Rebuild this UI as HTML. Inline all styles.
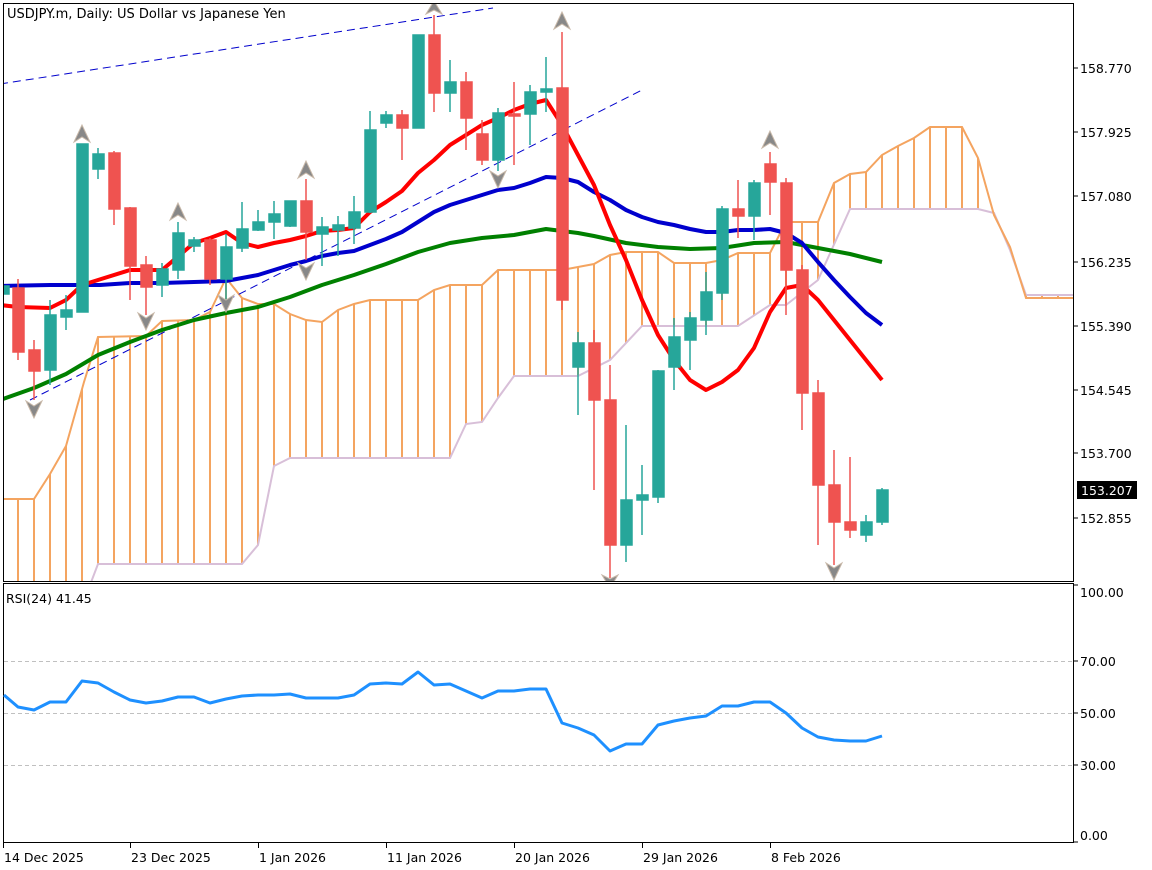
<!DOCTYPE html>
<html><head><meta charset="utf-8"><style>
html,body{margin:0;padding:0;background:#fff;}
svg{display:block;font-family:"DejaVu Sans","Liberation Sans",sans-serif;}
</style></head><body>
<svg width="1152" height="870" viewBox="0 0 1152 870" xmlns="http://www.w3.org/2000/svg">
<defs>
<pattern id="hatch" patternUnits="userSpaceOnUse" x="0" y="0" width="16" height="10">
<rect x="1" y="0" width="2" height="10" fill="#f4a460"/>
</pattern>
<clipPath id="main"><rect x="4" y="4" width="1069" height="577"/></clipPath>
</defs>
<rect width="1152" height="870" fill="#fff"/>
<g clip-path="url(#main)">
<!-- cloud -->
<polygon fill="url(#hatch)" points="0,499 34,499 50,474 66,446 84,382 98,337 146,336 162,321 194,320 210,312 226,278 242,298 258,304 274,304 290,314 306,320 322,322 338,310 354,304 370,300 418,300 434,290 450,285 482,285 498,270 562,270 578,267 594,264 610,255 626,252 658,252 674,263 706,263 722,260 738,253 770,253 786,222 818,222 834,183 850,174 866,172 882,155 898,146 914,138 930,127 962,127 978,158 994,215 1010,247 1026,298 1074,298 1074,295 1026,295 1010,250 994,213 978,209 850,209 818,280 786,305 770,305 738,326 642,326 610,360 578,376 514,376 498,398 482,422 466,424 450,458 290,458 274,466 258,545 242,565 98,565 90,585 0,585"/>
<polyline fill="none" stroke="#d8bfd8" stroke-width="2" points="90,585 98,564 242,564 258,545 274,466 290,458 450,458 466,424 482,422 498,398 514,376 578,376 610,360 642,326 738,326 770,305 786,305 818,280 850,209 978,209 994,213 1010,250 1026,295 1074,295"/>
<polyline fill="none" stroke="#f4a460" stroke-width="2" points="0,499 34,499 50,474 66,446 84,382 98,337 146,336 162,321 194,320 210,312 226,278 242,298 258,304 274,304 290,314 306,320 322,322 338,310 354,304 370,300 418,300 434,290 450,285 482,285 498,270 562,270 578,267 594,264 610,255 626,252 658,252 674,263 706,263 722,260 738,253 770,253 786,222 818,222 834,183 850,174 866,172 882,155 898,146 914,138 930,127 962,127 978,158 994,215 1010,247 1026,298 1074,298"/>
<!-- trend lines -->
<line x1="0" y1="84" x2="493" y2="8" stroke="#0000cc" stroke-width="1" stroke-dasharray="8,5"/>
<line x1="30" y1="400" x2="642" y2="90" stroke="#0000cc" stroke-width="1" stroke-dasharray="8,5"/>
<!-- MAs -->
<polyline fill="none" stroke="#008000" stroke-width="4" stroke-linejoin="round" points="0,400 34,388 66,374 98,355 130,342 162,330 194,320 226,313 258,307 290,297 322,285 354,275 386,264 418,252 450,243 482,238 514,235 546,229 562,231 578,233 594,236 626,243 658,247 690,249 722,248 754,243 786,242 818,248 850,254 882,262"/>
<polyline fill="none" stroke="#0000cd" stroke-width="4" stroke-linejoin="round" points="0,286 50,285 100,285 130,283 162,283 194,282 226,281 242,278 258,275 274,270 290,265 306,261 322,256 338,253 354,251 370,245 386,239 402,232 418,222 434,212 450,205 466,200 482,195 498,190 514,188 530,183 546,177 562,178 578,182 594,192 610,200 626,210 642,217 658,222 674,225 690,229 706,232 722,232 738,230 754,230 770,229 786,233 802,243 818,262 834,280 850,297 866,313 882,325"/>
<polyline fill="none" stroke="#ff0000" stroke-width="4" stroke-linejoin="round" points="0,305 18,307 50,308 66,300 82,285 98,280 130,270 162,270 194,243 210,238 226,232 242,243 258,247 274,243 290,240 306,236 322,231 338,230 354,228 370,212 386,202 402,191 418,173 434,160 450,145 466,135 482,125 498,118 514,110 530,104 546,100 562,125 578,155 594,185 610,225 626,260 642,300 658,335 674,360 690,380 706,390 722,382 738,370 754,348 770,312 786,288 802,285 818,300 834,320 850,340 866,360 882,380"/>
<!-- candles -->
<g stroke-width="1.5">
<g stroke="#26a69a" fill="#26a69a">
<line x1="3" y1="282" x2="3" y2="298"/><rect x="-2" y="286" width="11" height="8"/>
<line x1="50" y1="300" x2="50" y2="385"/><rect x="45" y="315" width="11" height="55"/>
<line x1="66" y1="295" x2="66" y2="330"/><rect x="61" y="310" width="11" height="7"/>
<line x1="82" y1="144" x2="82" y2="312"/><rect x="77" y="144" width="11" height="168"/>
<line x1="98" y1="148" x2="98" y2="179"/><rect x="93" y="154" width="11" height="15"/>
<line x1="162" y1="263" x2="162" y2="297"/><rect x="157" y="269" width="11" height="16"/>
<line x1="178" y1="222" x2="178" y2="279"/><rect x="173" y="233" width="11" height="37"/>
<line x1="194" y1="237" x2="194" y2="252"/><rect x="189" y="240" width="11" height="6"/>
<line x1="226" y1="234" x2="226" y2="307"/><rect x="221" y="247" width="11" height="32"/>
<line x1="242" y1="202" x2="242" y2="252"/><rect x="237" y="229" width="11" height="19"/>
<line x1="258" y1="210" x2="258" y2="231"/><rect x="253" y="222" width="11" height="8"/>
<line x1="274" y1="201" x2="274" y2="239"/><rect x="269" y="214" width="11" height="8"/>
<line x1="290" y1="201" x2="290" y2="227"/><rect x="285" y="201" width="11" height="25"/>
<line x1="322" y1="217" x2="322" y2="266"/><rect x="317" y="227" width="11" height="7"/>
<line x1="338" y1="216" x2="338" y2="256"/><rect x="333" y="225" width="11" height="5"/>
<line x1="354" y1="196" x2="354" y2="244"/><rect x="349" y="212" width="11" height="16"/>
<line x1="370" y1="111" x2="370" y2="213"/><rect x="365" y="130" width="11" height="82"/>
<line x1="386" y1="111" x2="386" y2="128"/><rect x="381" y="115" width="11" height="8"/>
<line x1="418" y1="35" x2="418" y2="128"/><rect x="413" y="35" width="11" height="93"/>
<line x1="450" y1="60" x2="450" y2="112"/><rect x="445" y="82" width="11" height="11"/>
<line x1="498" y1="108" x2="498" y2="171"/><rect x="493" y="113" width="11" height="47"/>
<line x1="530" y1="85" x2="530" y2="145"/><rect x="525" y="92" width="11" height="22"/>
<line x1="546" y1="57" x2="546" y2="112"/><rect x="541" y="89" width="11" height="3"/>
<line x1="578" y1="332" x2="578" y2="415"/><rect x="573" y="343" width="11" height="24"/>
<line x1="626" y1="425" x2="626" y2="562"/><rect x="621" y="500" width="11" height="45"/>
<line x1="642" y1="465" x2="642" y2="535"/><rect x="637" y="495" width="11" height="5"/>
<line x1="658" y1="370" x2="658" y2="503"/><rect x="653" y="371" width="11" height="126"/>
<line x1="674" y1="318" x2="674" y2="390"/><rect x="669" y="337" width="11" height="30"/>
<line x1="690" y1="312" x2="690" y2="370"/><rect x="685" y="318" width="11" height="22"/>
<line x1="706" y1="272" x2="706" y2="335"/><rect x="701" y="292" width="11" height="28"/>
<line x1="722" y1="206" x2="722" y2="300"/><rect x="717" y="209" width="11" height="84"/>
<line x1="754" y1="180" x2="754" y2="240"/><rect x="749" y="183" width="11" height="33"/>
<line x1="866" y1="515" x2="866" y2="542"/><rect x="861" y="522" width="11" height="13"/>
<line x1="882" y1="488" x2="882" y2="525"/><rect x="877" y="490" width="11" height="32"/>
</g>
<g stroke="#ef5350" fill="#ef5350">
<line x1="18" y1="279" x2="18" y2="360"/><rect x="13" y="288" width="11" height="64"/>
<line x1="34" y1="340" x2="34" y2="400"/><rect x="29" y="350" width="11" height="21"/>
<line x1="114" y1="151" x2="114" y2="225"/><rect x="109" y="153" width="11" height="56"/>
<line x1="130" y1="207" x2="130" y2="300"/><rect x="125" y="208" width="11" height="58"/>
<line x1="146" y1="256" x2="146" y2="315"/><rect x="141" y="265" width="11" height="22"/>
<line x1="210" y1="238" x2="210" y2="285"/><rect x="205" y="240" width="11" height="39"/>
<line x1="306" y1="179" x2="306" y2="260"/><rect x="301" y="201" width="11" height="31"/>
<line x1="402" y1="110" x2="402" y2="160"/><rect x="397" y="115" width="11" height="13"/>
<line x1="434" y1="15" x2="434" y2="112"/><rect x="429" y="35" width="11" height="58"/>
<line x1="466" y1="72" x2="466" y2="150"/><rect x="461" y="82" width="11" height="36"/>
<line x1="482" y1="120" x2="482" y2="165"/><rect x="477" y="134" width="11" height="26"/>
<line x1="514" y1="82" x2="514" y2="165"/><rect x="509" y="114" width="11" height="2"/>
<line x1="562" y1="32" x2="562" y2="310"/><rect x="557" y="88" width="11" height="212"/>
<line x1="594" y1="330" x2="594" y2="490"/><rect x="589" y="343" width="11" height="57"/>
<line x1="610" y1="365" x2="610" y2="578"/><rect x="605" y="400" width="11" height="145"/>
<line x1="738" y1="180" x2="738" y2="238"/><rect x="733" y="209" width="11" height="7"/>
<line x1="770" y1="152" x2="770" y2="215"/><rect x="765" y="164" width="11" height="18"/>
<line x1="786" y1="178" x2="786" y2="315"/><rect x="781" y="183" width="11" height="87"/>
<line x1="802" y1="265" x2="802" y2="430"/><rect x="797" y="270" width="11" height="123"/>
<line x1="818" y1="380" x2="818" y2="545"/><rect x="813" y="393" width="11" height="92"/>
<line x1="834" y1="450" x2="834" y2="565"/><rect x="829" y="485" width="11" height="37"/>
<line x1="850" y1="457" x2="850" y2="538"/><rect x="845" y="522" width="11" height="8"/>
</g>
</g>
<!-- fractal arrows -->
<g fill="#888" stroke="#c8b8a8" stroke-width="1">
<polygon points="82,125 74,142 82,137 90,142"/>
<polygon points="178,203 170,220 178,215 186,220"/>
<polygon points="306,161 298,178 306,173 314,178"/>
<polygon points="434,1 426,14 434,10 442,14"/>
<polygon points="562,12 554,29 562,24 570,29"/>
<polygon points="770,131 762,148 770,143 778,148"/>
<polygon points="34,418 26,401 34,406 42,401"/>
<polygon points="146,330 138,313 146,318 154,313"/>
<polygon points="226,312 218,295 226,300 234,295"/>
<polygon points="498,188 490,171 498,176 506,171"/>
<polygon points="306,280 298,263 306,268 314,263"/>
<polygon points="610,588 602,575 610,579 618,575"/>
<polygon points="834,580 826,563 834,568 842,563"/>
</g>
</g>
<!-- frames -->
<g fill="none" stroke="#000" stroke-width="1">
<rect x="3.5" y="3.5" width="1070" height="578"/>
<rect x="3.5" y="583.5" width="1070" height="259"/>
</g>
<text x="7" y="18" font-size="13" fill="#000">USDJPY.m, Daily:  US Dollar vs Japanese Yen</text>
<!-- price axis -->
<g font-size="12" fill="#000" stroke="#000">
<line x1="1074" y1="68" x2="1078" y2="68"/><line x1="1074" y1="132" x2="1078" y2="132"/><line x1="1074" y1="196" x2="1078" y2="196"/><line x1="1074" y1="262" x2="1078" y2="262"/><line x1="1074" y1="326" x2="1078" y2="326"/><line x1="1074" y1="390" x2="1078" y2="390"/><line x1="1074" y1="453" x2="1078" y2="453"/><line x1="1074" y1="518" x2="1078" y2="518"/>
</g>
<g font-size="12.5" fill="#000">
<text x="1080" y="73">158.770</text><text x="1080" y="137">157.925</text><text x="1080" y="201">157.080</text><text x="1080" y="267">156.235</text><text x="1080" y="331">155.390</text><text x="1080" y="395">154.545</text><text x="1080" y="458">153.700</text><text x="1080" y="523">152.855</text>
</g>
<rect x="1077" y="481" width="60" height="18" fill="#000"/>
<text x="1081" y="495" font-size="12.5" fill="#fff">153.207</text>
<!-- RSI -->
<g stroke="#c0c0c0" stroke-dasharray="4,3" stroke-width="1">
<line x1="4" y1="661.5" x2="1073" y2="661.5"/><line x1="4" y1="713.5" x2="1073" y2="713.5"/><line x1="4" y1="765.5" x2="1073" y2="765.5"/>
</g>
<g stroke="#000"><line x1="1074" y1="661" x2="1078" y2="661"/><line x1="1074" y1="713" x2="1078" y2="713"/><line x1="1074" y1="765" x2="1078" y2="765"/><line x1="1074" y1="585" x2="1078" y2="585"/><line x1="1074" y1="842" x2="1078" y2="842"/></g>
<g font-size="12.5" fill="#000">
<text x="1080" y="597">100.00</text><text x="1080" y="666">70.00</text><text x="1080" y="718">50.00</text><text x="1080" y="770">30.00</text><text x="1080" y="840">0.00</text>
</g>
<text x="6" y="603" font-size="12.5" fill="#000">RSI(24) 41.45</text>
<polyline fill="none" stroke="#1e90ff" stroke-width="3" stroke-linejoin="round" points="4,695 18,707 34,710 50,702 66,702 82,681 98,683 114,692 130,700 146,703 162,701 178,697 194,697 210,703 226,699 242,696 258,695 274,695 290,694 306,698 322,698 338,698 354,695 370,684 386,683 402,684 418,672 434,685 450,684 466,691 482,698 498,691 514,691 530,689 546,689 562,723 578,728 594,735 610,751 626,744 642,744 658,725 674,721 690,718 706,716 722,706 738,706 754,702 770,702 786,713 802,728 818,737 834,740 850,741 866,741 882,736"/>
<!-- time axis -->
<g stroke="#000"><line x1="3.5" y1="843" x2="3.5" y2="848"/><line x1="130.5" y1="843" x2="130.5" y2="848"/><line x1="258.5" y1="843" x2="258.5" y2="848"/><line x1="386.5" y1="843" x2="386.5" y2="848"/><line x1="514.5" y1="843" x2="514.5" y2="848"/><line x1="642.5" y1="843" x2="642.5" y2="848"/><line x1="770.5" y1="843" x2="770.5" y2="848"/></g>
<g font-size="12.5" fill="#000">
<text x="4" y="862">14 Dec 2025</text><text x="131" y="862">23 Dec 2025</text><text x="259" y="862">1 Jan 2026</text><text x="387" y="862">11 Jan 2026</text><text x="515" y="862">20 Jan 2026</text><text x="643" y="862">29 Jan 2026</text><text x="771" y="862">8 Feb 2026</text>
</g>
</svg>
</body></html>
